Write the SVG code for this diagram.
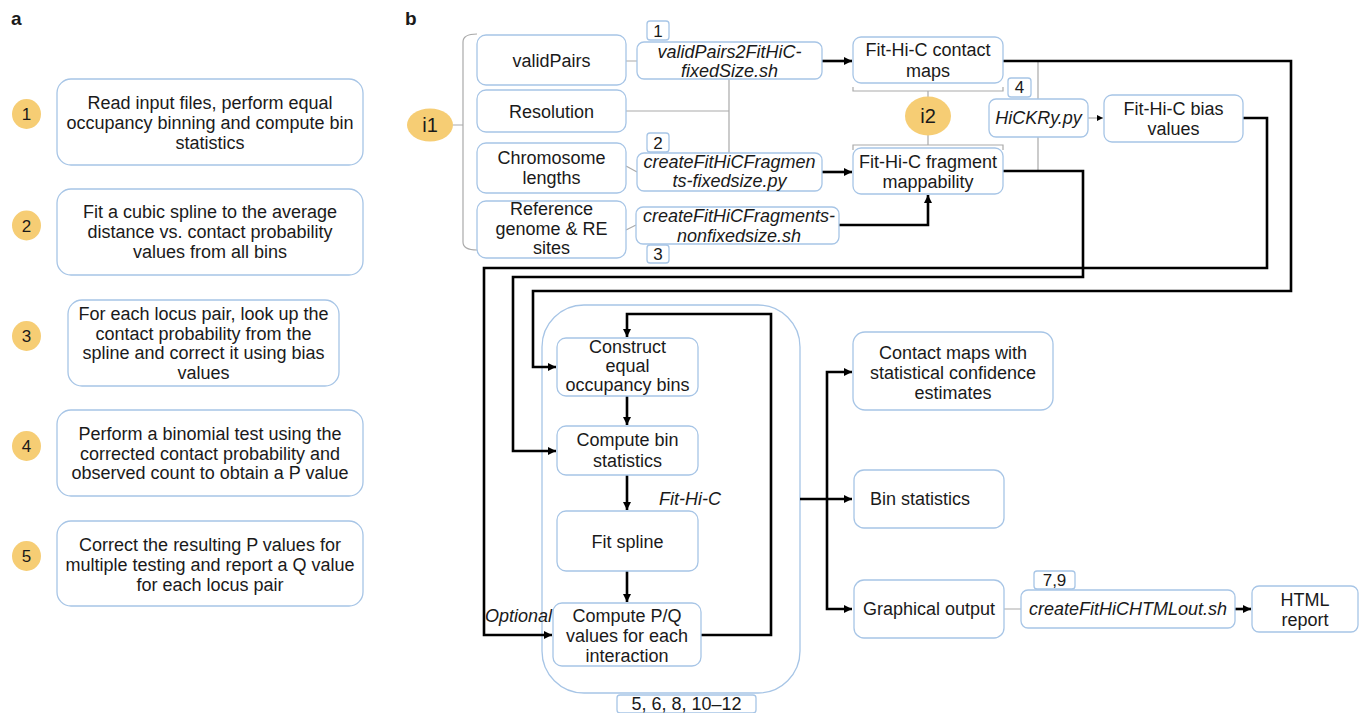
<svg xmlns="http://www.w3.org/2000/svg" width="1360" height="713" viewBox="0 0 1360 713">
<defs>
<style>
text{font-family:"Liberation Sans",Arial,Helvetica,sans-serif;font-size:18px;fill:#1a1a1a;text-anchor:middle}
.it{font-style:italic}
.lbl{font-weight:bold;font-size:19px;text-anchor:start}
.num{font-size:17px}
.big{font-size:20px}
.box{fill:#fff;stroke:#a7c5e6;stroke-width:1.3}
.cir{fill:#f6cd74;stroke:none}
.k{fill:none;stroke:#000;stroke-width:2.6}
.g{fill:none;stroke:#aaaaaa;stroke-width:1.2}
</style>
<marker id="ah" viewBox="0 0 10 10" refX="10" refY="5" markerWidth="9" markerHeight="8" markerUnits="userSpaceOnUse" orient="auto">
<path d="M0,0 L10,5 L0,10 z" fill="#000"/>
</marker>
<marker id="ahs" viewBox="0 0 10 10" refX="10" refY="5" markerWidth="6" markerHeight="6" markerUnits="userSpaceOnUse" orient="auto">
<path d="M0,0 L10,5 L0,10 z" fill="#000"/>
</marker>
</defs>
<rect width="1360" height="713" fill="#fff"/>

<text class="lbl" x="11" y="25">a</text>
<text class="lbl" x="405" y="25">b</text>

<!-- Panel a -->
<g id="a1"><ellipse class="cir" cx="26.5" cy="114" rx="14.5" ry="15"/><text class="num" x="26.5" y="120">1</text>
<rect class="box" x="57" y="79" width="306" height="86" rx="14"/>
<text x="210" y="109">Read input files, perform equal</text><text x="210" y="129">occupancy binning and compute bin</text><text x="210" y="149">statistics</text></g>
<g id="a2"><ellipse class="cir" cx="26.5" cy="225.5" rx="14.5" ry="15"/><text class="num" x="26.5" y="231.5">2</text>
<rect class="box" x="57" y="189" width="306" height="86" rx="14"/>
<text x="210" y="218">Fit a cubic spline to the average</text><text x="210" y="238">distance vs. contact probability</text><text x="210" y="258">values from all bins</text></g>
<g id="a3"><ellipse class="cir" cx="26.5" cy="336" rx="14.5" ry="15"/><text class="num" x="26.5" y="342">3</text>
<rect class="box" x="68" y="300" width="271" height="86" rx="14"/>
<text x="203.5" y="320">For each locus pair, look up the</text><text x="203.5" y="340">contact probability from the</text><text x="203.5" y="359">spline and correct it using bias</text><text x="203.5" y="379">values</text></g>
<g id="a4"><ellipse class="cir" cx="26.5" cy="446" rx="14.5" ry="15"/><text class="num" x="26.5" y="452">4</text>
<rect class="box" x="57" y="410" width="306" height="86" rx="14"/>
<text x="210" y="440">Perform a binomial test using the</text><text x="210" y="460">corrected contact probability and</text><text x="210" y="479">observed count to obtain a P value</text></g>
<g id="a5"><ellipse class="cir" cx="26.5" cy="556" rx="14.5" ry="15"/><text class="num" x="26.5" y="562">5</text>
<rect class="box" x="57" y="521" width="306" height="85" rx="14"/>
<text x="210" y="551">Correct the resulting P values for</text><text x="210" y="571">multiple testing and report a Q value</text><text x="210" y="591">for each locus pair</text></g>

<!-- Fit-Hi-C container -->
<g id="fithic"><rect x="542" y="305" width="258" height="388" rx="42" fill="none" stroke="#a7c5e6" stroke-width="1.3"/>
<text class="it" x="690" y="505">Fit-Hi-C</text></g>

<!-- Connectors -->
<g id="connectors">
<path class="g" d="M453,125 L463,125 M477,34 Q463,34 463,42 L463,242 Q463,250 477,250"/>
<path class="g" d="M626,61 L637,61 M626,111 L729,111 M729,79 L729,153 M626,166 L637,172 M626,230 L636,225"/>
<path class="g" d="M853,87 L853,91 L1003,91 L1003,87 M928,91 L928,97 M928,135 L928,145 M853,150 L853,145 L1003,145 L1003,150"/>
<path class="g" d="M1038,61 L1038,171 M1004,609 L1021,609"/>
<path class="g" d="M1088,118 L1103,118" stroke="#666" marker-end="url(#ahs)"/>
<path class="k" d="M822,61 L852,61" marker-end="url(#ah)"/>
<path class="k" d="M822,172 L852,172" marker-end="url(#ah)"/>
<path class="k" d="M839,225 L928,225 L928,195" marker-end="url(#ah)"/>
<path class="k" d="M1003,61 L1291,61 L1291,291 L533,291 L533,367 L556,367" marker-end="url(#ah)"/>
<path class="k" d="M1003,171 L1083,171 L1083,277 L513,277 L513,451 L556,451" marker-end="url(#ah)"/>
<path class="k" d="M1243,118 L1267,118 L1267,268 L484,268 L484,635 L552,635" marker-end="url(#ah)"/>
<path class="k" d="M627,396 L627,425" marker-end="url(#ah)"/>
<path class="k" d="M627,475 L627,510" marker-end="url(#ah)"/>
<path class="k" d="M627,571 L627,602" marker-end="url(#ah)"/>
<path class="k" d="M701,635 L771,635 L771,314 L627,314 L627,337" marker-end="url(#ah)"/>
<path class="k" d="M800,499 L852,499" marker-end="url(#ah)"/>
<path class="k" d="M827,499 L827,372 L852,372" marker-end="url(#ah)"/>
<path class="k" d="M827,499 L827,609 L852,609" marker-end="url(#ah)"/>
<path class="k" d="M1235,609 L1251,609" marker-end="url(#ah)"/>
</g>

<!-- Panel b nodes -->
<g id="i1"><ellipse class="cir" cx="430" cy="125" rx="23" ry="16.5"/><text class="big" x="430" y="132">i1</text></g>
<g id="validPairs"><rect class="box" x="477" y="35" width="149" height="50" rx="9"/><text x="551.5" y="67">validPairs</text></g>
<g id="resolution"><rect class="box" x="477" y="90" width="149" height="42" rx="9"/><text x="551.5" y="118">Resolution</text></g>
<g id="chromlen"><rect class="box" x="477" y="143" width="149" height="50" rx="9"/><text x="551.5" y="164">Chromosome</text><text x="551.5" y="184">lengths</text></g>
<g id="refgenome"><rect class="box" x="477" y="201" width="149" height="57" rx="9"/><text x="551.5" y="215">Reference</text><text x="551.5" y="235">genome &amp; RE</text><text x="551.5" y="254">sites</text></g>

<g id="step1"><rect class="box" x="647" y="21" width="22" height="19" rx="3"/><text class="num" x="658" y="37">1</text></g>
<g id="vp2fithic"><rect class="box" x="637" y="42" width="185" height="37" rx="7"/><text class="it" x="729.5" y="58">validPairs2FitHiC-</text><text class="it" x="729.5" y="77">fixedSize.sh</text></g>
<g id="step2"><rect class="box" x="647" y="133" width="22" height="19" rx="3"/><text class="num" x="658" y="149">2</text></g>
<g id="cffixed"><rect class="box" x="637" y="153" width="185" height="38" rx="7"/><text class="it" x="729.5" y="168">createFitHiCFragmen</text><text class="it" x="729.5" y="187">ts-fixedsize.py</text></g>
<g id="cfnonfixed"><rect class="box" x="636" y="207" width="203" height="37" rx="7"/><text class="it" x="739" y="222">createFitHiCFragments-</text><text class="it" x="739" y="242">nonfixedsize.sh</text></g>
<g id="step3"><rect class="box" x="647" y="245" width="22" height="18" rx="3"/><text class="num" x="658" y="260">3</text></g>

<g id="contactmaps"><rect class="box" x="853" y="37" width="150" height="46" rx="8"/><text x="928" y="56">Fit-Hi-C contact</text><text x="928" y="77">maps</text></g>
<g id="i2"><ellipse class="cir" cx="928" cy="116" rx="23" ry="19.5"/><text class="big" x="928" y="123">i2</text></g>
<g id="mappability"><rect class="box" x="853" y="148" width="150" height="46" rx="8"/><text x="928" y="168">Fit-Hi-C fragment</text><text x="928" y="188">mappability</text></g>
<g id="step4"><rect class="box" x="1008" y="78" width="23" height="19" rx="3"/><text class="num" x="1019.5" y="93">4</text></g>
<g id="hickry"><rect class="box" x="989" y="99" width="99" height="38" rx="7"/><text class="it" x="1038.5" y="124">HiCKRy.py</text></g>
<g id="biasvalues"><rect class="box" x="1104" y="95" width="139" height="47" rx="8"/><text x="1173.5" y="115">Fit-Hi-C bias</text><text x="1173.5" y="135">values</text></g>

<g id="construct"><rect class="box" x="557" y="338" width="141" height="58" rx="9"/><text x="627.5" y="353">Construct</text><text x="627.5" y="372">equal</text><text x="627.5" y="391">occupancy bins</text></g>
<g id="binstats"><rect class="box" x="557" y="426" width="141" height="49" rx="9"/><text x="627.5" y="446">Compute bin</text><text x="627.5" y="467">statistics</text></g>
<g id="fitspline"><rect class="box" x="557" y="511" width="141" height="60" rx="9"/><text x="627.5" y="548">Fit spline</text></g>
<g id="computepq"><rect class="box" x="553" y="603" width="148" height="63" rx="9"/><text x="627" y="622">Compute P/Q</text><text x="627" y="642">values for each</text><text x="627" y="662">interaction</text></g>
<text class="it" x="552" y="622" style="text-anchor:end">Optional</text>
<g id="steps5"><rect class="box" x="617" y="695" width="139" height="18" rx="3"/><text x="686.5" y="710">5, 6, 8, 10–12</text></g>

<g id="contactconf"><rect class="box" x="853" y="332" width="200" height="78" rx="12"/><text x="953" y="359">Contact maps with</text><text x="953" y="379">statistical confidence</text><text x="953" y="399">estimates</text></g>
<g id="binstatsout"><rect class="box" x="854" y="470" width="150" height="58" rx="10"/><text x="920" y="505">Bin statistics</text></g>
<g id="graphical"><rect class="box" x="854" y="580" width="150" height="58" rx="10"/><text x="929" y="615">Graphical output</text></g>
<g id="step79"><rect class="box" x="1034" y="571" width="41" height="18" rx="3"/><text class="num" x="1054.5" y="586">7,9</text></g>
<g id="htmlout"><rect class="box" x="1021" y="590" width="214" height="38" rx="7"/><text class="it" x="1128" y="615">createFitHiCHTMLout.sh</text></g>
<g id="htmlreport"><rect class="box" x="1252" y="586" width="106" height="46" rx="7"/><text x="1305" y="606">HTML</text><text x="1305" y="626">report</text></g>
</svg>
